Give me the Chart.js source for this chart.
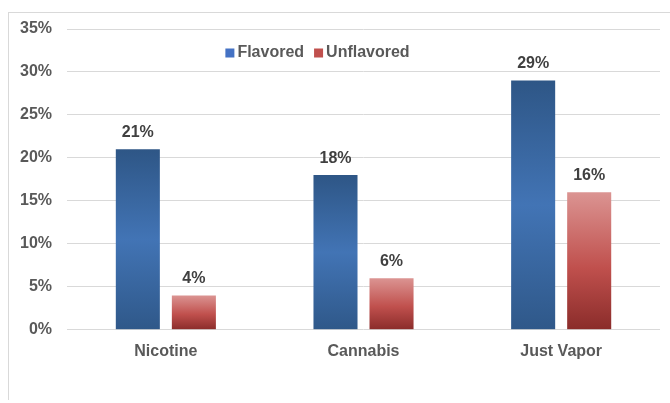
<!DOCTYPE html>
<html>
<head>
<meta charset="utf-8">
<script src="https://cdn.jsdelivr.net/npm/chart.js@4.4.0/dist/chart.umd.min.js"></script>
<style>
  body { margin: 0; background: #fff; }
  #wrap { position: relative; width: 670px; height: 403px; }
  #frame {
    position: absolute; left: 8px; top: 12px; right: 0; bottom: 3px;
    border-top: 1px solid #d9d9d9; border-left: 1px solid #d9d9d9;
    pointer-events: none;
  }
</style>
</head>
<body>
<div id="wrap">
  <canvas id="chart" width="670" height="403"></canvas>
  <div id="frame"></div>
</div>
<script>
// dados do gráfico
var categorias = ['Nicotine', 'Cannabis', 'Just Vapor'];
var series = ['Flavored', 'Unflavored'];
var flavored = [21, 18, 29];
var unflavored = [4, 6, 16];
var maxEixo = 35;
var passoEixo = 5;

var fonte = '"Liberation Sans", Arial, sans-serif';
var coresLegenda = ['#4472c4', '#c0504d'];

// gradiente de cada barra, calculado a partir da escala
function gradienteBarra(context, paradas, corLegenda) {
    var chart = context.chart;
    if (context.dataIndex === undefined || !chart.chartArea) {
        return corLegenda;
    }
    var y = chart.scales.y;
    var topo = y.getPixelForValue(context.raw);
    var base = y.getPixelForValue(0);
    if (!isFinite(topo) || topo === base) return corLegenda;
    var g = chart.ctx.createLinearGradient(0, topo, 0, base);
    paradas.forEach(function (p) { g.addColorStop(p[0], p[1]); });
    return g;
}

var paradasAzul = [[0, '#2e5686'], [0.5, '#4274b5'], [1, '#2f5889']];
var paradasVermelho = [[0, '#db9492'], [0.55, '#c0504d'], [1, '#8a2c2a']];

// rótulos em cima das barras
const rotulosBarras = {
    id: 'rotulosBarras',
    afterDatasetsDraw(chart) {
        const ctx = chart.ctx;
        ctx.save();
        ctx.font = 'bold 16px ' + fonte;
        ctx.fillStyle = '#404040';
        ctx.textAlign = 'center';
        ctx.textBaseline = 'middle';
        chart.data.datasets.forEach((ds, i) => {
            chart.getDatasetMeta(i).data.forEach((bar, j) => {
                ctx.fillText(ds.data[j] + '%', bar.x, bar.y - 17);
            });
        });
        ctx.restore();
    }
};

// legenda desenhada dentro da área do gráfico, no alto
const legendaInterna = {
    id: 'legendaInterna',
    afterDraw(chart) {
        const ctx = chart.ctx;
        const area = chart.chartArea;
        ctx.save();
        ctx.font = 'bold 16px ' + fonte;
        ctx.textBaseline = 'middle';
        const caixa = 9, gapTexto = 3, gapItem = 10;
        let total = 0;
        series.forEach((s, i) => {
            total += caixa + gapTexto + ctx.measureText(s).width;
            if (i < series.length - 1) total += gapItem;
        });
        let x = (area.left + area.right) / 2 - total / 2 - 46;
        const y = area.top + 24;
        series.forEach((s, i) => {
            ctx.fillStyle = coresLegenda[i];
            ctx.fillRect(x, y - caixa / 2, caixa, caixa);
            x += caixa + gapTexto;
            ctx.fillStyle = '#595959';
            ctx.fillText(s, x, y);
            x += ctx.measureText(s).width + gapItem;
        });
        ctx.restore();
    }
};

const config = {
    type: 'bar',
    data: {
        labels: categorias,
        datasets: [{
            label: series[0],
            data: flavored,
            backgroundColor: (c) => gradienteBarra(c, paradasAzul, coresLegenda[0]),
            barPercentage: 0.786,
            categoryPercentage: 0.567
        },
        {
            label: series[1],
            data: unflavored,
            backgroundColor: (c) => gradienteBarra(c, paradasVermelho, coresLegenda[1]),
            barPercentage: 0.786,
            categoryPercentage: 0.567
        }]
    },
    options: {
        responsive: false,
        animation: false,
        layout: {
            padding: { left: 5, right: 10, top: 29, bottom: 38 }
        },
        scales: {
            x: {
                grid: { display: false },
                border: { display: false },
                ticks: {
                    color: '#595959',
                    padding: 4,
                    font: { family: fonte, size: 16, weight: 'bold' }
                }
            },
            y: {
                min: 0,
                max: maxEixo,
                grid: { color: '#d9d9d9', lineWidth: 1, drawTicks: false },
                border: { display: false },
                ticks: {
                    stepSize: passoEixo,
                    color: '#595959',
                    padding: 15,
                    callback: (v) => v + '%',
                    font: { family: fonte, size: 16, weight: 'bold' }
                }
            }
        },
        plugins: {
            tooltip: { enabled: false },
            legend: { display: false }
        }
    },
    plugins: [rotulosBarras, legendaInterna]
};

const grafico = new Chart(document.getElementById('chart'), config);
</script>
</body>
</html>
